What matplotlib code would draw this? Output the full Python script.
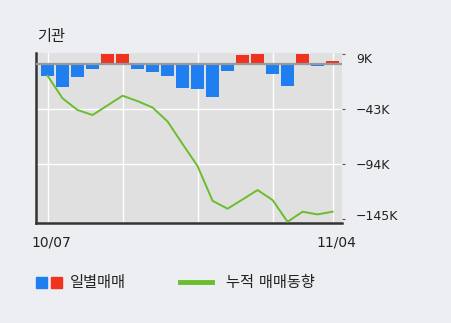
import matplotlib
matplotlib.use('Agg')
import matplotlib.pyplot as plt
import matplotlib.transforms as mtransforms
from matplotlib.patches import Rectangle
from matplotlib.lines import Line2D

plt.rcParams['font.family'] = ['DejaVu Sans', 'Noto Sans CJK KR']

# daily net trading (thousand shares) and cumulative trend, 10/07 .. 11/04
daily = [-11.3, -21.5, -12.2, -4.7, 9.0, 9.0, -4.7, -7.5, -11.3, -22.5,
         -23.4, -30.9, -6.6, 8.0, 9.0, -9.4, -20.6, 9.0, -2.6, 2.8]
cumulative = [-11.3, -32.4, -43.3, -48.0, -39.0, -30.0, -35.0, -41.0, -54.0, -75.0,
              -95.6, -128.0, -135.4, -126.8, -118.0, -127.3, -147.6, -138.2, -140.7, -138.2]
x_labels = {0: '10/07', 19: '11/04'}
y_ticks = [9, -42.33, -93.67, -145]
y_labels = ['9K', '\u221243K', '\u221294K', '\u2212145K']
grid_days = [0, 5, 10, 15, 19]

BLUE = '#1f7ff0'
RED = '#f0321e'
GREEN = '#6abd2d'
BG = '#edeef2'
PANEL = '#e0e0e0'

fig = plt.figure(figsize=(4.51, 3.23), dpi=100, facecolor=BG)
ax = fig.add_axes([0.0798, 0.3087, 0.6785, 0.5263])
ax.set_facecolor(PANEL)

x = list(range(len(daily)))
colors = [RED if v > 0 else BLUE for v in daily]
ax.bar(x, daily, width=0.87, color=colors, zorder=3)
ax.axhline(0, color='#999999', lw=1.6, zorder=4)
ax.plot(x, cumulative, color=GREEN, lw=1.4, zorder=5)

for d in grid_days:
    ax.axvline(d, color='white', lw=1.0, zorder=1)
for t in y_ticks[1:3]:
    ax.axhline(t, color='white', lw=1.0, zorder=1)

ax.set_xlim(-0.77, 19.63)
ax.set_ylim(-149, 9.6)

ax.set_xticks(list(x_labels.keys()))
ax.set_xticklabels(list(x_labels.values()), fontsize=10, color='#222222')
ax.tick_params(axis='x', length=0, pad=9)
offset = mtransforms.ScaledTranslation(3.5 / 100, 0, fig.dpi_scale_trans)
for lbl in ax.get_xticklabels():
    lbl.set_transform(lbl.get_transform() + offset)

ax.yaxis.tick_right()
ax.set_yticks(y_ticks)
ax.set_yticklabels(y_labels, fontsize=9, color='#222222')
ax.tick_params(axis='y', length=2, color='#555555', pad=8)
# end labels sit a little inside their levels in the original
ylbls = ax.get_yticklabels()
ylbls[0].set_transform(ylbls[0].get_transform() + mtransforms.ScaledTranslation(0, -4 / 100, fig.dpi_scale_trans))
ylbls[-1].set_transform(ylbls[-1].get_transform() + mtransforms.ScaledTranslation(0, 4 / 100, fig.dpi_scale_trans))

for s in ['top', 'right']:
    ax.spines[s].set_visible(False)
ax.spines['left'].set_color('#333333')
ax.spines['left'].set_linewidth(1.8)
ax.spines['bottom'].set_color('#333333')
ax.spines['bottom'].set_linewidth(1.8)

fig.text(37 / 451, 1 - 36 / 323, '기관', fontsize=11, color='#222222', va='center', ha='left')

# legend
fig.patches.append(Rectangle((36 / 451, 1 - 288 / 323), 11 / 451, 11 / 323,
                             transform=fig.transFigure, color=BLUE))
fig.patches.append(Rectangle((51 / 451, 1 - 288 / 323), 11 / 451, 11 / 323,
                             transform=fig.transFigure, color=RED))
fig.text(70 / 451, 1 - 283 / 323, '일별매매', fontsize=11, color='#222222', va='center', ha='left')
fig.lines.append(Line2D([180 / 451, 212 / 451], [1 - 282 / 323, 1 - 282 / 323],
                        transform=fig.transFigure, color=GREEN, lw=3.5))
fig.text(226 / 451, 1 - 283 / 323, '누적 매매동향', fontsize=11, color='#222222', va='center', ha='left')

fig.savefig('out.png', dpi=100, facecolor=BG)
